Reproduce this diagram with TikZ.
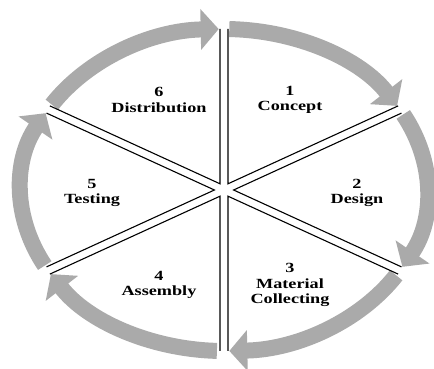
\documentclass[tikz,border=0pt]{standalone}
\usepackage{fontspec}
\setmainfont{Liberation Serif}
\usetikzlibrary{arrows.meta}
\definecolor{bandgray}{RGB}{170,170,170}

\begin{document}
\begin{tikzpicture}[x=1pt,y=1pt,
  band/.style={draw=bandgray,line width=16pt,-{Triangle[width=40pt,length=18pt]}},
  cut/.style={draw=black,line width=1.1pt},
  stage/.style={inner sep=0pt,align=center,font=\bfseries\fontsize{14}{15.5}\selectfont,xscale=1.3,transform shape}]

  \useasboundingbox (0,0) rectangle (434,369);
  \coordinate (c) at (224,179);

  \draw[band] (c) ++(88.5:203pt and 161pt) arc[start angle=88.5,end angle=31.5,x radius=203pt,y radius=161pt];
  \draw[band] (c) ++(28:203pt and 161pt) arc[start angle=28,end angle=-28.5,x radius=203pt,y radius=161pt];
  \draw[band] (c) ++(-32:203pt and 161pt) arc[start angle=-32,end angle=-88.5,x radius=203pt,y radius=161pt];
  \draw[band] (c) ++(268:203pt and 161pt) arc[start angle=268,end angle=211.5,x radius=203pt,y radius=161pt];
  \draw[band] (c) ++(208:203pt and 161pt) arc[start angle=208,end angle=151.5,x radius=203pt,y radius=161pt];
  \draw[band] (c) ++(148:203pt and 161pt) arc[start angle=148,end angle=91.5,x radius=203pt,y radius=161pt];

  \coordinate (w1) at (228,185.2);
  \coordinate (w1a) at (228,340);
  \coordinate (w1b) at (398.1,263.1);
  \coordinate (w2) at (233.6,179);
  \coordinate (w2a) at (401.5,255.9);
  \coordinate (w2b) at (401.5,102.1);
  \coordinate (w3) at (228,172.8);
  \coordinate (w3a) at (398.1,94.9);
  \coordinate (w3b) at (228,18);
  \coordinate (w4) at (220,172.8);
  \coordinate (w4a) at (220,18);
  \coordinate (w4b) at (49.9,94.9);
  \coordinate (w5) at (214.4,179);
  \coordinate (w5a) at (46.5,102.1);
  \coordinate (w5b) at (46.5,255.9);
  \coordinate (w6) at (220,185.2);
  \coordinate (w6a) at (49.9,263.1);
  \coordinate (w6b) at (220,340);

  \draw[cut] (w1a) -- (w1) -- (w1b);
  \draw[cut] (w2a) -- (w2) -- (w2b);
  \draw[cut] (w3a) -- (w3) -- (w3b);
  \draw[cut] (w4a) -- (w4) -- (w4b);
  \draw[cut] (w5a) -- (w5) -- (w5b);
  \draw[cut] (w6a) -- (w6) -- (w6b);

  \node[stage] (concept) at (290,269) {1\\Concept};
  \node[stage] (design) at (357,176) {2\\Design};
  \node[stage] (material) at (290,84) {3\\Material\\Collecting};
  \node[stage] (assembly) at (159,84) {4\\Assembly};
  \node[stage] (testing) at (92,176) {5\\Testing};
  \node[stage] (distribution) at (159,269) {6\\Distribution};
\end{tikzpicture}
\end{document}
